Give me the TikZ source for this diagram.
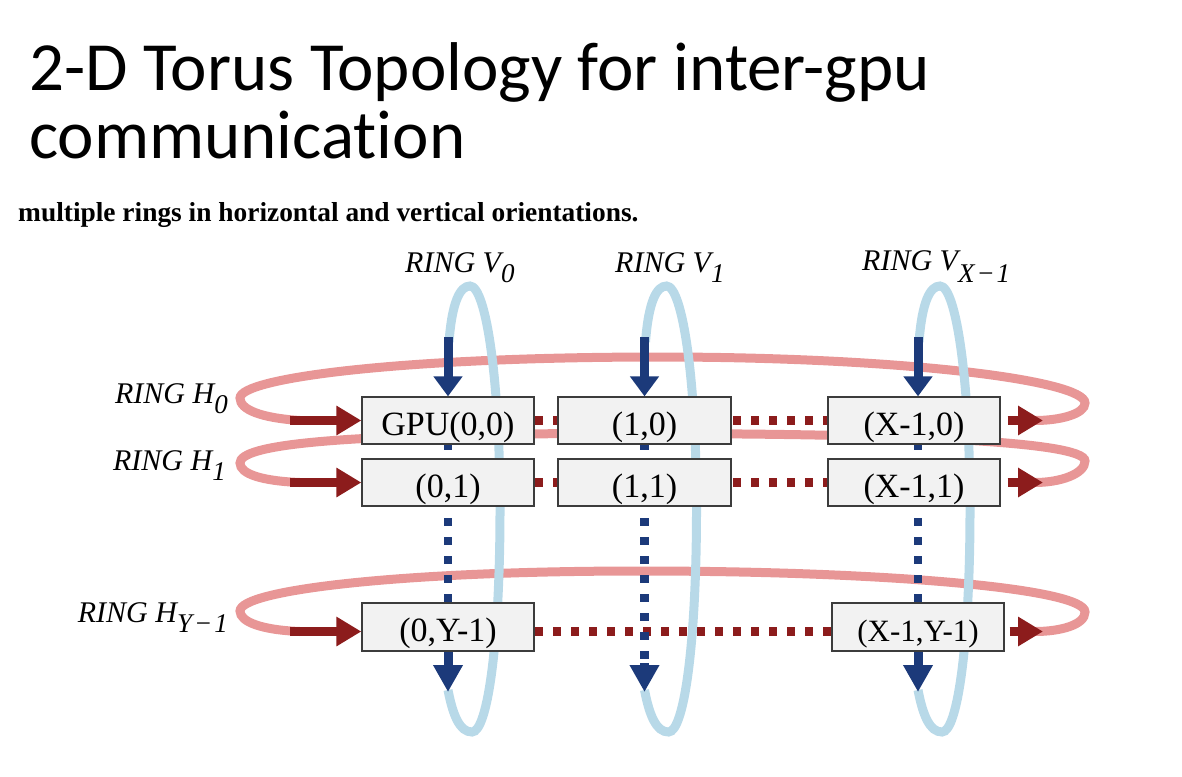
\documentclass[tikz,border=0pt]{standalone}
\usepackage{fontspec}
\setmainfont{Liberation Serif}
\newfontfamily\titlefont{Carlito}[Ligatures=NoCommon]
\usetikzlibrary{arrows.meta}
\definecolor{ringblue}{RGB}{184,217,232}
\definecolor{ringpink}{RGB}{232,150,150}
\definecolor{arrowred}{RGB}{140,28,28}
\definecolor{arrowblue}{RGB}{28,58,122}
\definecolor{boxfill}{RGB}{242,242,242}
\definecolor{boxline}{RGB}{60,60,60}
\pgfdeclarelayer{rings}
\pgfsetlayers{rings,main}
% vertical ring loop around column x = #1
\newcommand\vringloop[1]{%
  \draw[vring] (#1+1,342) .. controls (#1+4,302) and (#1+12,286) .. (#1+22,286)
    .. controls (#1+38,286) and (#1+52,380) .. (#1+52,510)
    .. controls (#1+52,640) and (#1+40,732) .. (#1+24,732)
    .. controls (#1+12,732) and (#1+5,716) .. (#1,690);}
\newcommand\subtxt[2]{\raisebox{#1}{\fontsize{27}{27}\selectfont #2}}
\begin{document}
\begin{tikzpicture}[x=1pt,y=-1pt,
  gpubox/.style={draw=boxline, fill=boxfill, line width=1.3pt, inner sep=0pt,
    minimum width=172pt, minimum height=47pt, text height=29pt, text depth=0pt,
    font=\fontsize{34}{34}\selectfont},
  hring/.style={draw=ringpink, line width=9pt},
  vring/.style={draw=ringblue, line width=9pt},
  reddots/.style={draw=arrowred, line width=8.5pt, dash pattern=on 8pt off 10pt, dash phase=3pt},
  bluedots/.style={draw=arrowblue, line width=8.5pt, dash pattern=on 8pt off 11pt, dash phase=16.5pt},
  redarrow/.style={draw=arrowred, line width=9pt, -{Triangle[width=28pt,length=25pt]}},
  bluearrow/.style={draw=arrowblue, line width=9pt, -{Triangle[width=28pt,length=27pt]}},
  bluein/.style={draw=arrowblue, line width=9pt, -{Triangle[width=28pt,length=20pt]}},
  ringlabel/.style={inner sep=0pt, font=\fontsize{30}{30}\selectfont\itshape},
]
\useasboundingbox (0,0) rectangle (1182,776);

% headings
\node[anchor=base west, inner sep=0pt, font=\titlefont\fontsize{69}{69}\selectfont]
  (title1) at (29,90) {2-D Torus Topology for inter-gpu};
\node[anchor=base west, inner sep=0pt, font=\titlefont\fontsize{69}{69}\selectfont]
  (title2) at (29,158) {communication};
\node[anchor=base west, inner sep=0pt, font=\bfseries\fontsize{27.4}{27.4}\selectfont]
  (subtitle) at (18,221) {multiple rings in horizontal and vertical orientations.};

% ring labels
\node[ringlabel, anchor=base west] (lv0) at (405,272) {RING V\subtxt{-10pt}{0}};
\node[ringlabel, anchor=base west] (lv1) at (615,272) {RING V\subtxt{-10pt}{1}};
\node[ringlabel, anchor=base west] (lvx) at (862,270) {RING V\subtxt{-12pt}{X\kern2pt−\kern2pt1}};
\node[ringlabel, anchor=base east] (lh0) at (228,403) {RING H\subtxt{-10pt}{0}};
\node[ringlabel, anchor=base east] (lh1) at (226,470) {RING H\subtxt{-10pt}{1}};
\node[ringlabel, anchor=base east] (lhy) at (228,622) {RING H\subtxt{-10pt}{Y\kern2pt−\kern2pt1}};

% GPU boxes
\node[gpubox] (n00) at (448,420.5) {GPU(0,0)};
\node[gpubox, minimum width=173pt] (n10) at (644.5,420.5) {(1,0)};
\node[gpubox] (nX0) at (914,420.5) {(X-1,0)};
\node[gpubox] (n01) at (448,482.5) {(0,1)};
\node[gpubox, minimum width=173pt] (n11) at (644.5,482.5) {(1,1)};
\node[gpubox] (nX1) at (914,482.5) {(X-1,1)};
\node[gpubox, minimum height=48pt] (n0Y) at (448,627) {(0,Y-1)};
\node[gpubox, minimum height=48pt, font=\fontsize{31}{31}\selectfont] (nXY) at (918,627) {(X-1,Y-1)};

% free ends of the connectors
\coordinate (t0) at (448,337);
\coordinate (t1) at (644.5,337);
\coordinate (tX) at (918,337);
\coordinate (b0) at (448,692);
\coordinate (b1) at (644.5,692);
\coordinate (b1s) at (644.5,663);
\coordinate (bX) at (918,692);
\coordinate (l0) at (290,420.5);
\coordinate (l1) at (290,482.5);
\coordinate (lY) at (290,631.5);
\coordinate (r0) at (1043,420.5);
\coordinate (r1) at (1043,482.5);
\coordinate (rY) at (1043,631.5);

\begin{pgfonlayer}{rings}
  % horizontal rings
  \draw[hring] (300,420.5) .. controls (262,418) and (240,410) .. (240,398)
    .. controls (240,378) and (400,357) .. (660,357)
    .. controls (900,357) and (1085,380) .. (1085,403)
    .. controls (1085,414) and (1060,420.5) .. (1035,420.5);
  \draw[hring] (300,482.5) .. controls (262,481) and (240,474) .. (240,463)
    .. controls (240,445) and (330,434) .. (600,433.5)
    .. controls (900,433) and (1085,441) .. (1085,461)
    .. controls (1085,474) and (1060,482.5) .. (1035,482.5);
  \draw[hring] (300,631.5) .. controls (262,630) and (240,622) .. (240,611)
    .. controls (240,590) and (400,571) .. (640,571)
    .. controls (880,571) and (1085,588) .. (1085,612)
    .. controls (1085,625) and (1060,631.5) .. (1035,631.5);
  % vertical rings
  \vringloop{448}
  \vringloop{644.5}
  \vringloop{918}

  % dotted links inside the rows
  \draw[reddots] (n00.center) -- (nX0.center);
  \draw[reddots] (n01.center) -- (nX1.center);
  \draw[reddots] (n0Y.center |- lY) -- (nXY.center |- lY);
  % dotted links down the columns
  \draw[bluedots] (n00.center) -- (n0Y.center);
  \draw[bluedots] (n10.center) -- (b1s);
  \draw[bluedots] (tX |- nX0.center) -- (nXY.center);

  % ring entry arrows
  \draw[bluein] (t0) -- (n00.north);
  \draw[bluein] (t1) -- (n10.north);
  \draw[bluein] (tX) -- (tX |- nX0.north);
  \draw[redarrow] (l0) -- (n00.west);
  \draw[redarrow] (l1) -- (n01.west);
  \draw[redarrow] (lY) -- (lY -| n0Y.west);
  % ring exit arrows
  \draw[bluearrow] (n0Y.south) -- (b0);
  \draw[bluearrow] (b1s) -- (b1);
  \draw[bluearrow] (nXY.south) -- (bX);
  \draw[redarrow] ([xshift=7pt]nX0.east) -- (r0);
  \draw[redarrow] ([xshift=7pt]nX1.east) -- (r1);
  \draw[redarrow] ([xshift=5pt]nXY.east |- rY) -- (rY);
\end{pgfonlayer}
\end{tikzpicture}
\end{document}
